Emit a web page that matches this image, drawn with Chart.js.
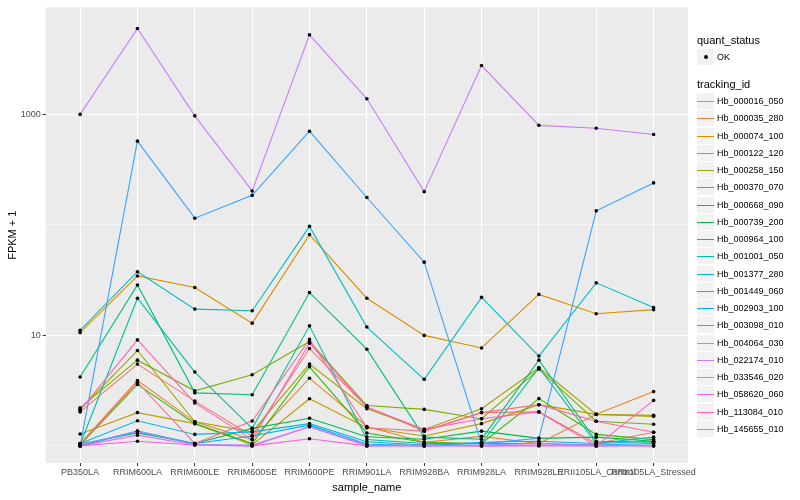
<!DOCTYPE html>
<html>
<head>
<meta charset="utf-8">
<script src="https://cdn.jsdelivr.net/npm/chart.js@4"></script>
<style>
    body { margin: 0; background: #fff; font-family: "Liberation Sans", Arial, sans-serif; }
    #wrap { position: relative; width: 800px; height: 500px; }
    .lg-title { position: absolute; left: 697px; font-size: 11px; color: #000; line-height: 12px; }
    .lg-row { position: absolute; left: 697px; height: 17px; }
    .lg-key { position: absolute; left: 0; top: 0; width: 17px; height: 16px; background: #f2f2f2; }
    .lg-line { position: absolute; left: 0; top: 7.5px; width: 17px; height: 1.5px; }
    .lg-dot { position: absolute; left: 7px; top: 6px; width: 4px; height: 4px; border-radius: 50%; background: #000; }
    .lg-text { position: absolute; left: 20px; top: 2px; font-size: 9px; line-height: 12px; color: #000; white-space: nowrap; }
</style>
</head>
<body>
<div id="wrap">
    <canvas id="expr" width="800" height="500"></canvas>
    <div id="legend"></div>
</div>
<script>
// samples on the x axis
const samples = ['PB350LA', 'RRIM600LA', 'RRIM600LE', 'RRIM600SE', 'RRIM600PE', 'RRIM901LA',
    'RRIM928BA', 'RRIM928LA', 'RRIM928LE', 'RRII105LA_Control', 'RRII105LA_Stressed'];

// FPKM + 1, one array per gene, same order as samples
const hb_000016_050 = [2.03, 5.5, 2.54, 1.23, 7.6, 2.25, 1.36, 2.0, 2.03, 1.05, 1.33];
const hb_000035_280 = [1.05, 3.9, 1.65, 1.14, 4.1, 1.5, 1.08, 1.22, 1.05, 1.93, 3.1];
const hb_000074_100 = [10.6, 34.5, 27.1, 12.9, 81.7, 21.7, 10.0, 7.7, 23.5, 15.7, 17.1];
const hb_000122_120 = [1.28, 2.0, 1.59, 1.02, 2.67, 1.46, 1.23, 1.59, 2.36, 1.93, 1.89];
const hb_000258_150 = [2.14, 7.3, 1.65, 1.34, 5.5, 2.17, 1.41, 2.17, 5.1, 1.93, 1.85];
const hb_000370_070 = [2.21, 5.97, 3.15, 4.4, 8.8, 2.32, 2.14, 1.76, 4.95, 1.67, 1.57];
const hb_000668_090 = [1.02, 3.6, 1.59, 1.05, 5.2, 1.31, 1.08, 1.05, 2.68, 1.27, 1.14];
const hb_000739_200 = [1.04, 1.31, 1.05, 1.44, 1.78, 1.21, 1.15, 1.36, 1.17, 1.2, 1.1];
const hb_000964_100 = [4.2, 28.6, 3.02, 2.9, 24.4, 7.5, 1.2, 1.15, 5.97, 1.1, 1.08];
const hb_001001_050 = [1.03, 21.7, 4.66, 1.44, 12.2, 1.14, 1.05, 1.05, 5.1, 1.05, 1.2];
const hb_001377_280 = [11.1, 37.7, 17.3, 16.7, 97, 11.9, 4.0, 22.1, 6.5, 29.9, 17.9];
const hb_001449_060 = [1.05, 1.69, 1.27, 1.34, 1.59, 1.09, 1.02, 1.05, 1.05, 1.02, 1.05];
const hb_002903_100 = [1.0, 1.36, 1.05, 1.23, 1.54, 1.04, 1.0, 1.08, 1.1, 1.05, 1.1];
const hb_003098_010 = [1.0, 573, 115, 185, 705, 177, 46, 1.05, 1.17, 134, 240];
const hb_004064_030 = [1.02, 1.36, 1.03, 1.02, 1.49, 1.02, 1.0, 1.02, 1.05, 1.0, 1.02];
const hb_022174_010 = [1000, 6000, 970, 203, 5250, 1384, 200, 2770, 796, 749, 658];
const hb_033546_020 = [1.0, 1.25, 1.02, 1.0, 1.49, 1.0, 1.02, 1.0, 1.02, 1.02, 1.0];
const hb_058620_060 = [1.0, 1.1, 1.02, 1.0, 1.16, 1.0, 1.0, 1.0, 1.0, 1.0, 1.0];
const hb_113084_010 = [2.1, 9.1, 2.45, 1.14, 8.5, 2.25, 1.41, 1.76, 2.03, 1.0, 2.58];
const hb_145655_010 = [1.03, 3.77, 1.05, 1.68, 9.2, 1.46, 1.36, 2.0, 2.36, 1.67, 1.33];

const trackingIds = ['Hb_000016_050', 'Hb_000035_280', 'Hb_000074_100', 'Hb_000122_120', 'Hb_000258_150',
    'Hb_000370_070', 'Hb_000668_090', 'Hb_000739_200', 'Hb_000964_100', 'Hb_001001_050',
    'Hb_001377_280', 'Hb_001449_060', 'Hb_002903_100', 'Hb_003098_010', 'Hb_004064_030',
    'Hb_022174_010', 'Hb_033546_020', 'Hb_058620_060', 'Hb_113084_010', 'Hb_145655_010'];
const seriesValues = [hb_000016_050, hb_000035_280, hb_000074_100, hb_000122_120, hb_000258_150,
    hb_000370_070, hb_000668_090, hb_000739_200, hb_000964_100, hb_001001_050,
    hb_001377_280, hb_001449_060, hb_002903_100, hb_003098_010, hb_004064_030,
    hb_022174_010, hb_033546_020, hb_058620_060, hb_113084_010, hb_145655_010];

// y breaks: labelled ones and the minor ones in between
const yMajor = [10, 1000];
const yMinor = [1, 100];

// ggplot hue palette, 20 levels
const colors = ['#F8766D', '#EA8331', '#D89000', '#C09B00', '#A3A500', '#7CAE00', '#39B600', '#00BB4E',
    '#00BF7D', '#00C1A3', '#00BFC4', '#00BAE0', '#00B0F6', '#35A2FF', '#9590FF', '#C77CFF',
    '#E76BF3', '#FA62DB', '#FF62BC', '#FF6C90'];

const tickFont = { family: '"Liberation Sans", Arial, sans-serif', size: 9 };
const titleFont = { family: '"Liberation Sans", Arial, sans-serif', size: 11 };

// lines, later genes drawn on top
const datasets = seriesValues.map((vals, i) => ({
    label: trackingIds[i],
    data: vals.map((v, j) => ({ x: j, y: v })),
    borderColor: colors[i],
    borderWidth: 1.1,
    pointRadius: 0,
    tension: 0,
    order: 100 - i
}));

// all points on top of the lines
const allPoints = [];
seriesValues.forEach(vals => vals.forEach((v, j) => allPoints.push({ x: j, y: v })));
datasets.push({
    label: 'OK',
    data: allPoints,
    showLine: false,
    pointRadius: 1.8,
    pointBackgroundColor: '#000',
    pointBorderWidth: 0,
    order: 0
});

const panelBg = {
    id: 'panelBg',
    beforeDraw(chart) {
        const a = chart.chartArea;
        const c = chart.ctx;
        c.save();
        c.fillStyle = '#EBEBEB';
        c.fillRect(a.left, a.top, a.right - a.left, a.bottom - a.top);
        c.restore();
    }
};

new Chart(document.getElementById('expr').getContext('2d'), {
    type: 'line',
    data: { datasets: datasets },
    options: {
        responsive: false,
        animation: false,
        layout: { padding: { left: 0, right: 112, top: 4, bottom: 0 } },
        plugins: { legend: { display: false }, tooltip: { enabled: false } },
        scales: {
            x: {
                type: 'linear',
                min: -0.6,
                max: samples.length - 1 + 0.6,
                afterBuildTicks: s => { s.ticks = samples.map((_, j) => ({ value: j })); },
                afterFit: s => { s.height = 37; },
                border: { display: false },
                grid: { color: '#ffffff', lineWidth: 1.07, tickLength: 3, tickColor: '#333333', tickWidth: 1 },
                ticks: {
                    autoSkip: false, maxRotation: 0, minRotation: 0, padding: 1,
                    color: '#4D4D4D', font: tickFont,
                    callback: v => samples[v]
                },
                title: { display: true, text: 'sample_name', color: '#000', font: titleFont, padding: { top: 0, bottom: 5 } }
            },
            y: {
                type: 'logarithmic',
                min: 0.726,
                max: 9300,
                afterBuildTicks: s => {
                    s.ticks = yMinor.concat(yMajor).sort((a, b) => a - b).map(v => ({ value: v }));
                },
                afterFit: s => { s.width = 45.7; },
                border: { display: false },
                grid: {
                    color: '#ffffff',
                    lineWidth: c => yMajor.includes(c.tick.value) ? 1.07 : 0.53,
                    tickLength: 3,
                    tickColor: c => yMajor.includes(c.tick.value) ? '#333333' : 'rgba(0,0,0,0)',
                    tickWidth: 1
                },
                ticks: {
                    padding: 2, color: '#4D4D4D', font: tickFont,
                    callback: v => yMajor.includes(v) ? String(v) : ''
                },
                title: { display: true, text: 'FPKM + 1', color: '#000', font: titleFont, padding: { top: 6, bottom: 0 } }
            }
        }
    },
    plugins: [panelBg]
});

// legend in html, like the ggplot guides
const legend = document.getElementById('legend');
let html = '<div class="lg-title" style="top:34px">quant_status</div>';
html += '<div class="lg-row" style="top:49px"><div class="lg-key"><div class="lg-dot"></div></div>' +
    '<div class="lg-text">OK</div></div>';
html += '<div class="lg-title" style="top:78px">tracking_id</div>';
trackingIds.forEach((id, i) => {
    const top = Math.round(93 + i * 17.25);
    html += '<div class="lg-row" style="top:' + top + 'px"><div class="lg-key">' +
        '<div class="lg-line" style="background:' + colors[i] + '"></div></div>' +
        '<div class="lg-text">' + id + '</div></div>';
});
legend.innerHTML = html;
</script>
</body>
</html>
